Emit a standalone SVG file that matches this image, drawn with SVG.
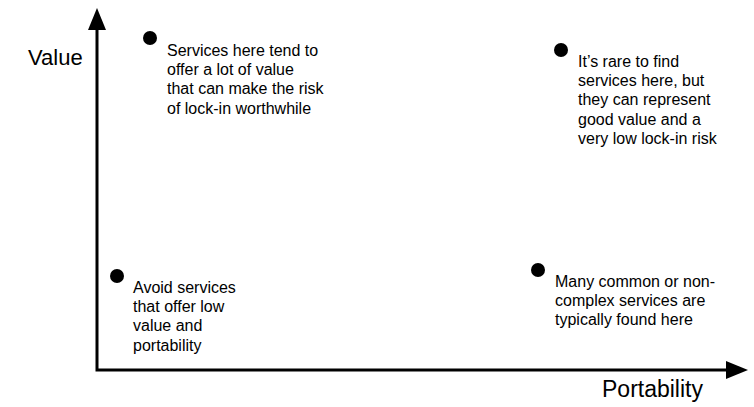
<svg xmlns="http://www.w3.org/2000/svg" width="754" height="407" viewBox="0 0 754 407">
  <style>
    .axis { stroke: #000; stroke-width: 3; fill: none; }
    .head { fill: #000; }
    .dot { fill: #000; }
    .note { font-family: "Liberation Sans", Arial, sans-serif; font-size: 16px; fill: #000; }
    .label { font-family: "Liberation Sans", Arial, sans-serif; font-size: 22px; fill: #000; }
  </style>
  <rect width="754" height="407" fill="#fff"/>
  <g id="connectors">
    <path class="axis" d="M97 28 L97 370 L729 370"/>
    <polygon class="head" points="97,8 106,30 88,30"/>
    <polygon class="head" points="748,370 726,361 726,379"/>
  </g>
  <g id="axis-value"><text class="label" x="28" y="65">Value</text></g>
  <g id="axis-portability"><text class="label" x="602" y="397" style="font-size:23px">Portability</text></g>
  <g id="node-top-left">
    <circle class="dot" cx="150" cy="38" r="7"/>
    <text class="note" x="167" y="56">
      <tspan x="167">Services here tend to</tspan>
      <tspan x="167" dy="19.2">offer a lot of value</tspan>
      <tspan x="167" dy="19.2">that can make the risk</tspan>
      <tspan x="167" dy="19.2">of lock-in worthwhile</tspan>
    </text>
  </g>
  <g id="node-top-right">
    <circle class="dot" cx="561" cy="50" r="7"/>
    <text class="note" x="578" y="67">
      <tspan x="578">It’s rare to find</tspan>
      <tspan x="578" dy="19.2">services here, but</tspan>
      <tspan x="578" dy="19.2">they can represent</tspan>
      <tspan x="578" dy="19.2">good value and a</tspan>
      <tspan x="578" dy="19.2">very low lock-in risk</tspan>
    </text>
  </g>
  <g id="node-bottom-left">
    <circle class="dot" cx="117" cy="276" r="7"/>
    <text class="note" x="133" y="293">
      <tspan x="133">Avoid services</tspan>
      <tspan x="133" dy="19.2">that offer low</tspan>
      <tspan x="133" dy="19.2">value and</tspan>
      <tspan x="133" dy="19.2">portability</tspan>
    </text>
  </g>
  <g id="node-bottom-right">
    <circle class="dot" cx="538" cy="270" r="7"/>
    <text class="note" x="555" y="287">
      <tspan x="555">Many common or non-</tspan>
      <tspan x="555" dy="19.2">complex services are</tspan>
      <tspan x="555" dy="19.2">typically found here</tspan>
    </text>
  </g>
</svg>
